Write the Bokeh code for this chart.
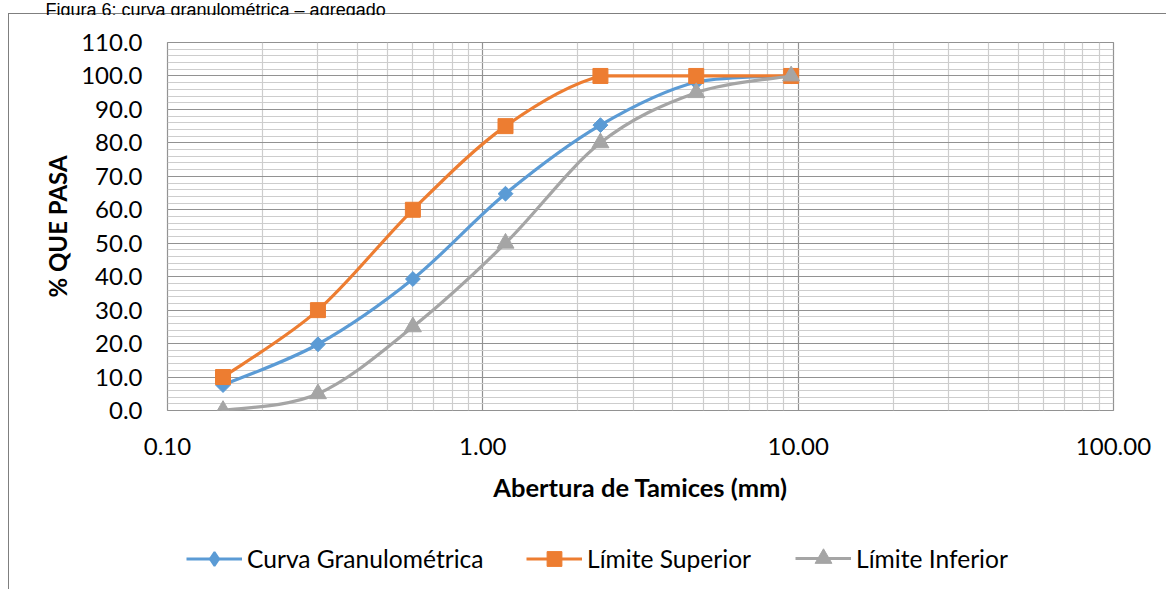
import numpy as np
from bokeh.plotting import figure
from bokeh.layouts import column
from bokeh.models import (Range1d, FixedTicker, PrintfTickFormatter, Legend, LegendItem,
                          ColumnDataSource, Label)
from bokeh.embed import file_html
from bokeh.resources import INLINE

# ---------------- data ----------------
aberturas = [0.15, 0.30, 0.60, 1.18, 2.36, 4.75, 9.50]
curva_granulometrica = [7.6, 19.8, 39.3, 64.8, 85.3, 98.2, 100.0]
limite_superior = [10.0, 30.0, 60.0, 85.0, 100.0, 100.0, 100.0]
limite_inferior = [0.0, 5.0, 25.0, 50.0, 80.0, 95.0, 100.0]
series_names = ["Curva Granulométrica", "Límite Superior", "Límite Inferior"]
x_major_ticks = [0.1, 1, 10, 100]
y_major_ticks = list(range(0, 111, 10))
title_text = "Figura 6: curva granulométrica – agregado"
x_title = "Abertura de Tamices (mm)"
y_title = "% QUE PASA"

# ---------------- layout constants ----------------
W = 1166
H_TITLE, H_MAIN, H_LEG = 15, 505, 69
FL, FR, FT, FB = 167, 1113, 27, 395  # frame edges inside the main figure
BLUE, ORANGE, GRAY = "#5B9BD5", "#ED7D31", "#A5A5A5"
FONT = "Lato"
BORDER = "#7f7f7f"

left_line_css = {
    "background-image": f"linear-gradient({BORDER}, {BORDER})",
    "background-size": "1px 100%",
    "background-position": "8px 0px",
    "background-repeat": "no-repeat",
}


def smooth_segments(xs, ys):
    """Cubic Bezier control points (Catmull-Rom, 1/6) in log-x / linear-y space,
    with control points kept inside each segment's y-span (no overshoot)."""
    u = np.log10(np.asarray(xs, float))
    v = np.asarray(ys, float)
    up = np.concatenate([[u[0]], u, [u[-1]]])
    vp = np.concatenate([[v[0]], v, [v[-1]]])
    n = len(u)
    c0u, c0v, c1u, c1v = [], [], [], []
    for i in range(n - 1):
        lo, hi = min(v[i], v[i + 1]), max(v[i], v[i + 1])
        c0u.append(u[i] + (up[i + 2] - up[i]) / 6.0)
        c0v.append(np.clip(v[i] + (vp[i + 2] - vp[i]) / 6.0, lo, hi))
        c1u.append(u[i + 1] - (up[i + 3] - up[i + 1]) / 6.0)
        c1v.append(np.clip(v[i + 1] - (vp[i + 3] - vp[i + 1]) / 6.0, lo, hi))
    return dict(x0=10 ** u[:-1], y0=v[:-1], x1=10 ** u[1:], y1=v[1:],
                cx0=10 ** np.array(c0u), cy0=np.array(c0v),
                cx1=10 ** np.array(c1u), cy1=np.array(c1v))


def bare_figure(height, **kw):
    f = figure(width=W, height=height, min_border=0, output_backend="svg",
               toolbar_location=None, x_axis_location=None, y_axis_location=None,
               background_fill_alpha=0, border_fill_alpha=0, outline_line_color=None, **kw)
    f.xgrid.visible = False
    f.ygrid.visible = False
    return f


# ---------------- title strip (text partly cut by the page top) ----------------
pt = bare_figure(H_TITLE)
pt.styles = {
    "background-image": f"linear-gradient({BORDER}, {BORDER}), linear-gradient({BORDER}, {BORDER})",
    "background-size": "1px 20px, 1200px 1px",
    "background-position": "8px 13px, 8px 13px",
    "background-repeat": "no-repeat",
}
pt.add_layout(Label(x=45, y=H_TITLE - 9, x_units="screen", y_units="screen",
                    text=title_text, text_font="Liberation Sans", text_font_size="18px",
                    text_color="#000000", text_baseline="alphabetic", text_align="left"))

# ---------------- main chart ----------------
p = figure(width=W, height=H_MAIN, x_axis_type="log",
           x_range=Range1d(0.1, 100), y_range=Range1d(0, 110),
           min_border_left=FL, min_border_right=W - FR,
           min_border_top=FT, min_border_bottom=H_MAIN - FB,
           output_backend="svg", toolbar_location=None,
           background_fill_color="white", border_fill_alpha=0)
p.styles = dict(left_line_css)

minor_x = [m * 10.0 ** e for e in (-1, 0, 1) for m in range(2, 10)]
p.xaxis.ticker = FixedTicker(ticks=x_major_ticks, minor_ticks=minor_x)
p.yaxis.ticker = FixedTicker(ticks=y_major_ticks, minor_ticks=list(range(0, 111, 2)))
p.xaxis.formatter = PrintfTickFormatter(format="%.2f")
p.yaxis.formatter = PrintfTickFormatter(format="%.1f")

for g in (p.xgrid, p.ygrid):
    g.grid_line_color = "#929292"
    g.grid_line_width = 1.2
    g.minor_grid_line_color = "#cdcdcd"
    g.minor_grid_line_width = 1.2
p.outline_line_color = "#929292"
p.outline_line_width = 1.2

for ax in (p.xaxis, p.yaxis):
    ax.axis_line_color = None
    ax.major_tick_line_color = None
    ax.minor_tick_line_color = None
    ax.major_tick_out = 0
    ax.major_tick_in = 0
    ax.minor_tick_out = 0
    ax.minor_tick_in = 0
    ax.major_label_text_font = FONT
    ax.major_label_text_font_size = "24px"
    ax.major_label_text_color = "#000000"
    ax.axis_label_text_font = FONT
    ax.axis_label_text_font_style = "bold"
    ax.axis_label_text_color = "#000000"

p.xaxis.axis_label = x_title
p.yaxis.axis_label = y_title
p.xaxis.axis_label_text_font_size = "25.5px"
p.yaxis.axis_label_text_font_size = "24px"
p.yaxis.major_label_standoff = 25
p.yaxis.axis_label_standoff = 6
p.xaxis.major_label_standoff = 27
p.xaxis.axis_label_standoff = 14

# ---------------- legend strip (its frame lines up with the chart frame) ----------------
pl = bare_figure(H_LEG, x_range=Range1d(1000, 1001), y_range=Range1d(1000, 1001))
pl.styles = dict(left_line_css)

series = [
    (curva_granulometrica, BLUE, dict(marker="square", size=10.5, angle=np.pi / 4),
     dict(marker="diamond", line_width=2.0), 35),
    (limite_superior, ORANGE, dict(marker="square", size=15, angle=0.0),
     dict(marker="square", line_width=1.0), 37),
    (limite_inferior, GRAY, dict(marker="triangle", size=17, angle=0.0),
     dict(marker="triangle", line_width=1.0), 42),
]
legend_left = [186, 526, 795]
legend_cy = 38  # vertical centre of the legend row inside the legend strip

for (vals, color, mk, legmk, gh), name, lx in zip(series, series_names, legend_left):
    seg = ColumnDataSource(smooth_segments(aberturas, vals))
    p.bezier(x0="x0", y0="y0", x1="x1", y1="y1", cx0="cx0", cy0="cy0",
             cx1="cx1", cy1="cy1", source=seg, line_color=color, line_width=3.2,
             line_cap="round")
    pts = ColumnDataSource(dict(x=aberturas, y=vals))
    p.scatter(x="x", y="y", source=pts, fill_color=color, line_color=color,
              line_width=1, **mk)

    # legend entry (its renderers sit outside the strip's visible range)
    ll = pl.line(x=aberturas, y=vals, line_color=color, line_width=3.2)
    lm = pl.scatter(x=aberturas, y=vals, fill_color=color, line_color=color, **legmk)
    hleg = max(gh, 29)
    leg = Legend(items=[LegendItem(label=name, renderers=[ll, lm])],
                 location=(lx - FL, H_LEG - (legend_cy + hleg / 2)),
                 orientation="horizontal", glyph_width=56, glyph_height=gh,
                 label_height=gh, label_standoff=5, padding=0, margin=0, spacing=0,
                 border_line_color=None, background_fill_alpha=0,
                 label_text_font=FONT, label_text_font_size="24.6px",
                 label_text_color="#000000")
    pl.add_layout(leg, "center")

layout = column(pt, column(p, pl, spacing=0), spacing=0)
open("out.html", "w").write(file_html(layout, INLINE))
